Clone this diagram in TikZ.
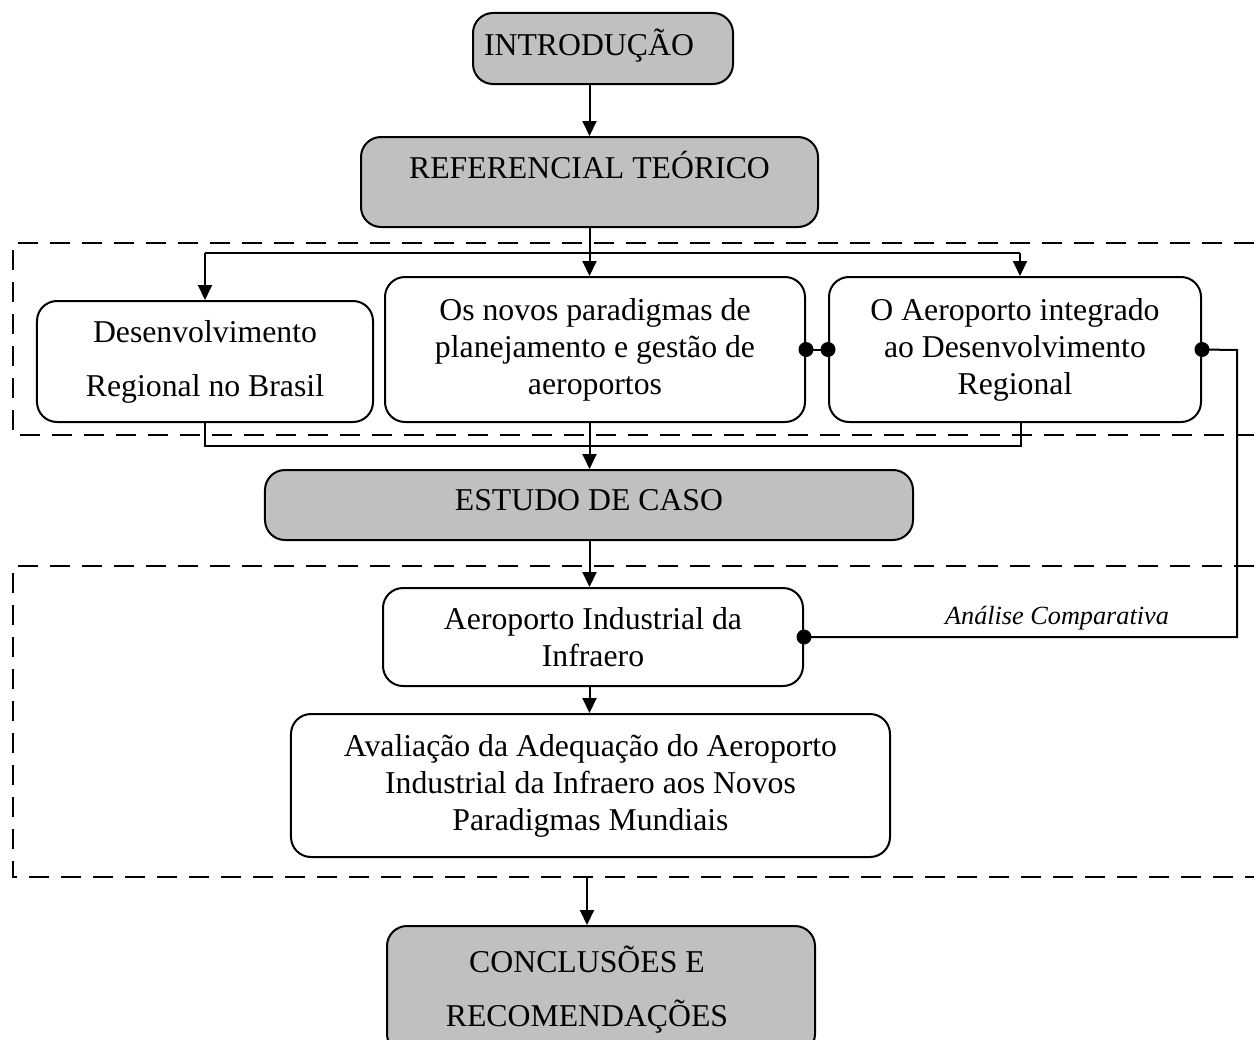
\documentclass[tikz,border=0pt]{standalone}
\usepackage{fontspec}
\setmainfont{Liberation Serif}
\definecolor{boxgray}{HTML}{C0C0C0}
\usetikzlibrary{arrows.meta}

\begin{document}
\begin{tikzpicture}[
  x=0.4pt, y=-0.4pt,
  box/.style={draw, line width=0.8pt, rounded corners=8pt, align=center,
              font=\fontsize{12.7}{14.8}\selectfont, inner sep=2pt},
  gbox/.style={box, fill=boxgray},
  spaced/.style={font=\fontsize{12.7}{21.6}\selectfont},
  arr/.style={line width=0.8pt, -{Triangle[length=6pt, width=5.6pt]}},
  link/.style={line width=0.8pt},
  frame/.style={line width=0.8pt, dash pattern=on 8pt off 4.8pt},
  note/.style={font=\fontsize{10.5}{12}\selectfont\itshape},
]
\useasboundingbox (0,0) rectangle (1254,1040);

% dashed frames
\draw[frame] (1254,243) -- (13,243) -- (13,435) -- (1254,435);
\draw[frame] (1254,566) -- (13,566) -- (13,877) -- (1254,877);

\node[gbox, minimum width=104pt, minimum height=28.4pt,
      text height=11.5pt, text depth=6.3pt] (intro) at (603,48.5) {INTRODUÇÃO\hspace*{11.2pt}};
\node[gbox, minimum width=182.8pt, minimum height=36pt,
      text height=11.5pt, text depth=14pt] (ref) at (589.5,182) {REFERENCIAL TEÓRICO};

\node[box, spaced, minimum width=134.4pt, minimum height=48.4pt] (des) at (205,361.5)
  {Desenvolvimento\\Regional no Brasil};
\node[box, minimum width=168pt, minimum height=58pt] (par) at (595,349.5)
  {Os novos paradigmas de\\planejamento e gestão de\\aeroportos};
\node[box, minimum width=148.8pt, minimum height=58pt] (aer) at (1015,349.5)
  {O Aeroporto integrado\\ao Desenvolvimento\\Regional};

\node[gbox, minimum width=259.2pt, minimum height=28pt, text depth=4pt] (est) at (589,505)
  {ESTUDO DE CASO};

\node[box, minimum width=168pt, minimum height=39.2pt] (ind) at (593,637)
  {Aeroporto Industrial da\\Infraero};
\node[box, minimum width=239.6pt, minimum height=57.2pt] (ava) at (590.5,785.5)
  {Avaliação da Adequação do Aeroporto\\Industrial da Infraero aos Novos\\Paradigmas Mundiais};

\node[gbox, spaced, minimum width=171.2pt, minimum height=51.2pt] (con) at (601,990)
  {CONCLUSÕES E\hspace*{11.2pt}\\RECOMENDAÇÕES\hspace*{11.2pt}};

\node[note] (ana) at (1057,618) {Análise Comparativa};

% split and merge points
\coordinate (fanL) at (205,253);
\coordinate (fanR) at (1020,253);
\coordinate (mrgL) at (205,446);
\coordinate (mrgR) at (1021,446);
\coordinate (loop) at (1237,350);

% connectors
\draw[arr] (ref.north |- intro.south) -- (ref.north);
\draw[link] (fanL) -- (fanR);
\draw[arr] (ref.south) -- (ref.south |- par.north);
\draw[arr] (fanL) -- (fanL |- des.north);
\draw[arr] (fanR) -- (fanR |- aer.north);

\draw[link] (des.south) -- (mrgL) -- (mrgR) -- (mrgR |- aer.south);
\draw[arr] (ref.south |- par.south) -- (ref.south |- est.north);

\draw[arr] (ref.south |- est.south) -- (ref.south |- ind.north);
\draw[arr] (ref.south |- ind.south) -- (ref.south |- ava.north);
\draw[arr] (587,877) -- (587,0 |- con.north);

% linked boxes
\draw[link] (par.east) -- (aer.west);
\draw[link] (aer.east) -- (loop) |- (ind.east);
\fill (par.east) circle[radius=7.5];
\fill (aer.west) circle[radius=7.5];
\fill (aer.east) circle[radius=7.5];
\fill (ind.east) circle[radius=7.5];
\end{tikzpicture}
\end{document}
